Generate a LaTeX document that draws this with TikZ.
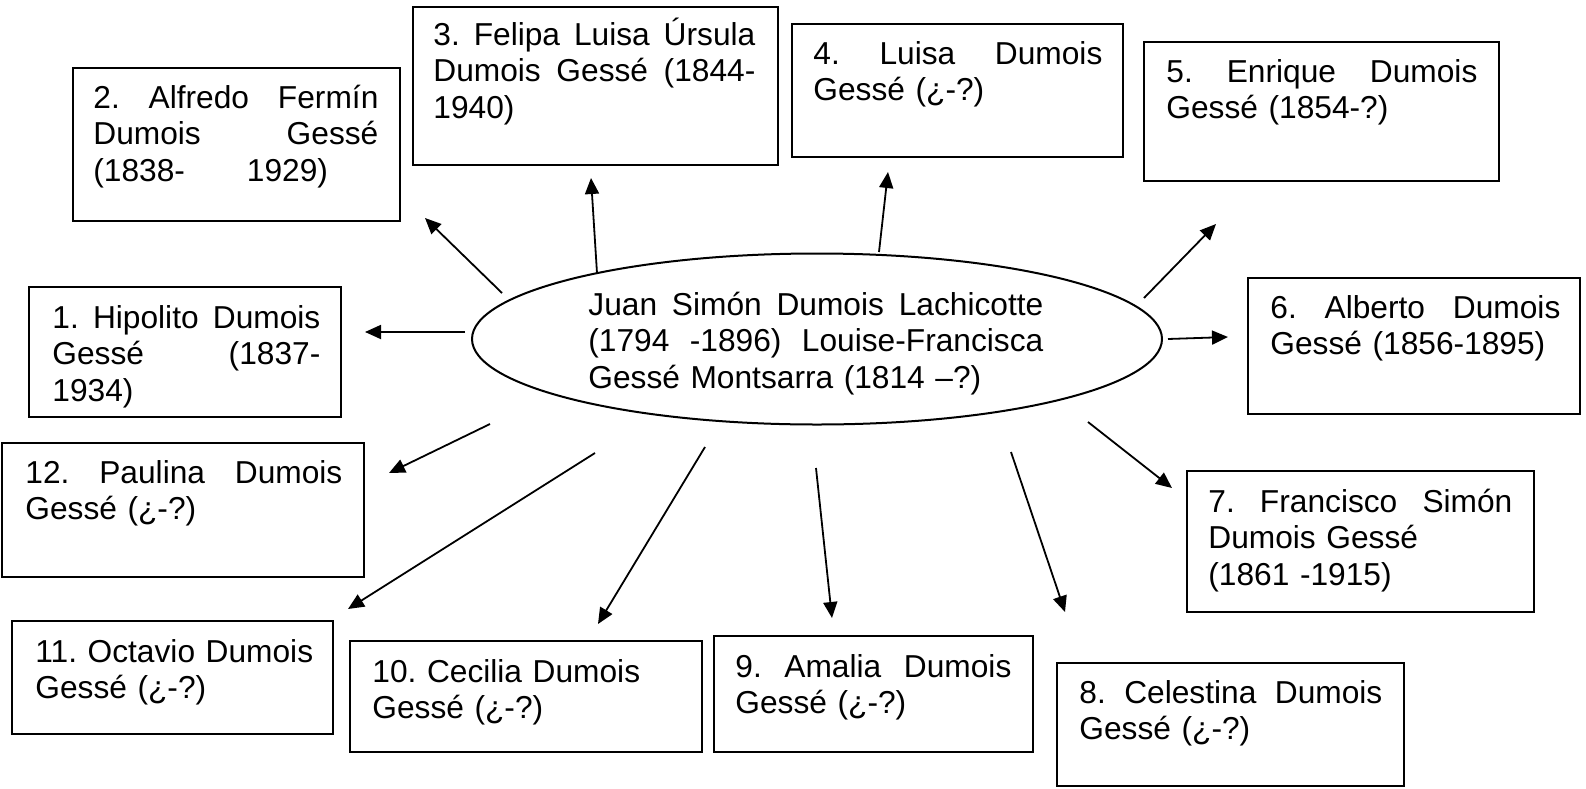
\documentclass[tikz,border=0pt]{standalone}
\usepackage{fontspec}
\setmainfont{Liberation Sans}
\usetikzlibrary{shapes.geometric,arrows.meta,fit}
\begin{document}
\begin{tikzpicture}[x=0.5pt,y=-0.5pt,
  box/.style={draw, line width=1.1pt, inner sep=0pt},
  txt/.style={inner sep=0pt, anchor=base west, font=\fontsize{15.85pt}{18.25pt}\selectfont\frenchspacing},
  arr/.style={line width=0.9pt, -{Triangle[length=8pt,width=7pt]}}]
\path[fill=white] (0,0) rectangle (1586,788);

% centre
\node[draw, ellipse, line width=1pt, minimum width=345pt, minimum height=85.5pt, inner sep=0pt] (par) at (817,339) {};
\node[txt, text width=227.5pt] (tp) at (588,315) {Juan\hfill Simón\hfill Dumois\hfill Lachicotte\\(1794\hfill -1896)\hfill Louise-Francisca\\Gessé Montsarra (1814 –?)};

% boxes
\node[box, fit={(29,287)(341,417)}] (b1) {};
\node[txt, text width=134pt] (t1) at (52,328) {1.\hfill Hipolito\hfill Dumois\\Gessé\hfill (1837-\\1934)};

\node[box, fit={(73,68)(400,221)}] (b2) {};
\node[txt, text width=142.5pt] (t2) at (93,108) {2.\hfill Alfredo\hfill Fermín\\Dumois\hfill Gessé\\(1838-\hspace*{31pt}1929)};

\node[box, fit={(413,7)(778,165)}] (b3) {};
\node[txt, text width=161pt] (t3) at (433,45) {3.\hfill Felipa\hfill Luisa\hfill Úrsula\\Dumois\hfill Gessé\hfill (1844-\\1940)};

\node[box, fit={(792,24)(1123,157)}] (b4) {};
\node[txt, text width=144.5pt] (t4) at (813,64) {4.\hfill Luisa\hfill Dumois\\Gessé (¿-?)};

\node[box, fit={(1144,42)(1499,181)}] (b5) {};
\node[txt, text width=155.5pt] (t5) at (1166,82) {5.\hfill Enrique\hfill Dumois\\Gessé (1854-?)};

\node[box, fit={(1248,278)(1580,414)}] (b6) {};
\node[txt, text width=145pt] (t6) at (1270,318) {6.\hfill Alberto\hfill Dumois\\Gessé (1856-1895)};

\node[box, fit={(1187,471)(1534,612)}] (b7) {};
\node[txt, text width=152pt] (t7) at (1208,512) {7.\hfill Francisco\hfill Simón\\Dumois Gessé\\(1861 -1915)};

\node[box, fit={(1057,663)(1404,786)}] (b8) {};
\node[txt, text width=151.5pt] (t8) at (1079,703) {8.\hfill Celestina\hfill Dumois\\Gessé (¿-?)};

\node[box, fit={(714,636)(1033,752)}] (b9) {};
\node[txt, text width=138pt] (t9) at (735,677) {9.\hfill Amalia\hfill Dumois\\Gessé (¿-?)};

\node[box, fit={(350,641)(702,752)}] (b10) {};
\node[txt, text width=150pt] (t10) at (372,682) {10. Cecilia Dumois\\Gessé (¿-?)};

\node[box, fit={(12,621)(333,734)}] (b11) {};
\node[txt, text width=150pt] (t11) at (35,662) {11. Octavio Dumois\\Gessé (¿-?)};

\node[box, fit={(2,443)(364,577)}] (b12) {};
\node[txt, text width=158.5pt] (t12) at (25,483) {12.\hfill Paulina\hfill Dumois\\Gessé (¿-?)};

% connector ends
\coordinate (s1) at (465,332);  \coordinate (e1) at (365,332);
\coordinate (s2) at (502,293);  \coordinate (e2) at (425,218);
\coordinate (s3) at (597,273);  \coordinate (e3) at (591,178);
\coordinate (s4) at (879,252);  \coordinate (e4) at (888,172);
\coordinate (s5) at (1144,298); \coordinate (e5) at (1216,224);
\coordinate (s6) at (1168,339); \coordinate (e6) at (1228,337);
\coordinate (s7) at (1088,422); \coordinate (e7) at (1172,488);
\coordinate (s8) at (1011,452); \coordinate (e8) at (1065,612);
\coordinate (s9) at (816,468);  \coordinate (e9) at (832,618);
\coordinate (s10) at (705,447); \coordinate (e10) at (598,624);
\coordinate (s11) at (595,453); \coordinate (e11) at (348,609);
\coordinate (s12) at (490,424); \coordinate (e12) at (389,473);

\foreach \i in {1,...,12} \draw[arr] (s\i) -- (e\i);
\end{tikzpicture}
\end{document}
